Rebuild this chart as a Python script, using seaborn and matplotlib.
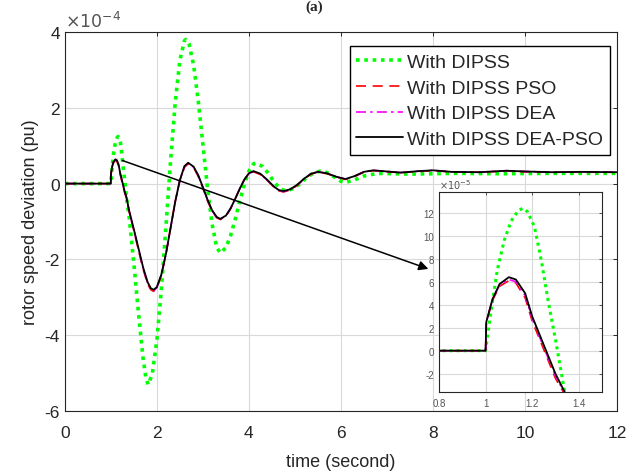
import numpy as np
import pandas as pd
import matplotlib
matplotlib.use("Agg")
import matplotlib.pyplot as plt
import seaborn as sns

# ---------------- data (values in units of 1e-4 pu) ----------------
t_dipss = [0.0, 0.5, 1.0, 1.02, 1.05, 1.08, 1.11, 1.14, 1.16, 1.18, 1.21, 1.24, 1.27, 1.30,
           1.34, 1.4, 1.5, 1.6, 1.7, 1.76, 1.81, 1.9, 2.0, 2.1, 2.2, 2.3, 2.4, 2.5, 2.6, 2.63,
           2.7, 2.8, 2.9, 3.0, 3.1, 3.2, 3.3, 3.38, 3.5, 3.6, 3.7, 3.8, 3.9, 4.0, 4.1, 4.15,
           4.3, 4.4, 4.5, 4.6, 4.7, 4.8, 4.95, 5.1, 5.25, 5.4, 5.55, 5.7, 5.85, 6.0, 6.1,
           6.3, 6.5, 6.8, 7.5, 8.5, 9.5, 10.5, 12.0]
v_dipss = [0.0, 0.0, 0.0, 0.30, 0.70, 0.96, 1.13, 1.22, 1.24, 1.21, 1.08, 0.78, 0.42, 0.10,
           -0.36, -0.9, -2.1, -3.4, -4.6, -5.1, -5.3, -5.03, -4.14, -2.77, -1.1, 0.62, 2.14, 3.25, 3.77, 3.8,
           3.68, 3.12, 2.18, 1.04, -0.11, -1.06, -1.68, -1.83, -1.69, -1.38, -0.955, -0.475, -0.025, 0.33, 0.52, 0.54,
           0.45, 0.305, 0.13, -0.03, -0.15, -0.19, -0.14, -0.01, 0.15, 0.28, 0.33, 0.29, 0.18, 0.06, 0.03,
           0.10, 0.20, 0.27, 0.25, 0.27, 0.26, 0.27, 0.27]

t_opt = [0.0, 0.5, 1.0, 1.003, 1.03, 1.06, 1.1, 1.13, 1.17, 1.2, 1.25, 1.3, 1.34, 1.4, 1.5,
         1.6, 1.7, 1.8, 1.87, 1.93, 2.0, 2.1, 2.2, 2.3, 2.4, 2.5, 2.6, 2.68, 2.8, 2.9, 3.0,
         3.1, 3.2, 3.3, 3.38, 3.5, 3.6, 3.7, 3.8, 3.9, 4.0, 4.1, 4.25, 4.4, 4.55, 4.65, 4.75,
         4.9, 5.05, 5.2, 5.35, 5.5, 5.7, 5.9, 6.1, 6.3, 6.5, 6.7, 7.0, 7.3, 7.7, 8.0, 8.4,
         9.0, 9.6, 10.0, 10.6, 11.2, 12.0]
v_dea_pso = [0.0, 0.0, 0.0, 0.25, 0.45, 0.58, 0.64, 0.62, 0.50, 0.30, 0.05, -0.20, -0.36, -0.72, -1.2,
             -1.7, -2.2, -2.6, -2.76, -2.8, -2.73, -2.39, -1.84, -1.16, -0.475, 0.09, 0.46, 0.55, 0.445, 0.22, -0.09,
             -0.42, -0.70, -0.88, -0.93, -0.845, -0.66, -0.41, -0.14, 0.105, 0.27, 0.33, 0.26, 0.10, -0.085, -0.17, -0.20,
             -0.15, -0.03, 0.13, 0.26, 0.31, 0.27, 0.18, 0.12, 0.20, 0.31, 0.35, 0.32, 0.29, 0.33, 0.35, 0.31,
             0.30, 0.34, 0.32, 0.30, 0.31, 0.30]
v_pso = [0.0, 0.0, 0.0, 0.25, 0.44, 0.56, 0.61, 0.59, 0.46, 0.26, 0.01, -0.24, -0.38, -0.75, -1.24,
         -1.75, -2.25, -2.65, -2.80, -2.84, -2.76, -2.41, -1.85, -1.16, -0.47, 0.08, 0.43, 0.52, 0.42, 0.19, -0.12,
         -0.45, -0.73, -0.90, -0.95, -0.86, -0.67, -0.41, -0.14, 0.10, 0.26, 0.31, 0.24, 0.08, -0.10, -0.19, -0.22,
         -0.17, -0.05, 0.12, 0.25, 0.30, 0.26, 0.17, 0.11, 0.19, 0.30, 0.34, 0.31, 0.29, 0.32, 0.34, 0.31,
         0.30, 0.33, 0.31, 0.30, 0.30, 0.30]
v_dea = [0.0, 0.0, 0.0, 0.25, 0.45, 0.57, 0.62, 0.60, 0.48, 0.28, 0.03, -0.22, -0.37, -0.74, -1.22,
         -1.72, -2.23, -2.63, -2.78, -2.82, -2.75, -2.40, -1.85, -1.16, -0.47, 0.09, 0.45, 0.54, 0.43, 0.21, -0.10,
         -0.43, -0.71, -0.89, -0.94, -0.85, -0.66, -0.41, -0.14, 0.10, 0.27, 0.32, 0.25, 0.09, -0.09, -0.18, -0.21,
         -0.16, -0.04, 0.13, 0.26, 0.31, 0.27, 0.18, 0.12, 0.20, 0.31, 0.35, 0.32, 0.29, 0.33, 0.35, 0.31,
         0.30, 0.34, 0.32, 0.30, 0.31, 0.30]

series_names = ["With DIPSS", "With DIPSS PSO", "With DIPSS DEA", "With DIPSS DEA-PSO"]
x_ticks = [0, 2, 4, 6, 8, 10, 12]
y_ticks = [-6, -4, -2, 0, 2, 4]
y_labels = ["-6", "-4", "-2", "0", "2", "4"]
inset_x_ticks = [0.8, 1.0, 1.2, 1.4]
inset_x_labels = ["0.8", "1", "1.2", "1.4"]
inset_y_ticks = [-2, 0, 2, 4, 6, 8, 10, 12]
inset_y_labels = ["-2", "0", "2", "4", "6", "8", "10", "12"]

# ---------------- build frames ----------------
frames = []
frames.append(pd.DataFrame({"t": t_dipss, "v": np.array(v_dipss) * 1e-4, "s": series_names[0]}))
frames.append(pd.DataFrame({"t": t_opt, "v": np.array(v_pso) * 1e-4, "s": series_names[1]}))
frames.append(pd.DataFrame({"t": t_opt, "v": np.array(v_dea) * 1e-4, "s": series_names[2]}))
frames.append(pd.DataFrame({"t": t_opt, "v": np.array(v_dea_pso) * 1e-4, "s": series_names[3]}))

styles = {
    series_names[0]: dict(color="#00ff00", linestyle=(0, (1, 1.3)), linewidth=2.6),
    series_names[1]: dict(color="#ff0000", linestyle=(0, (6, 4)), linewidth=1.2),
    series_names[2]: dict(color="#ff00ff", linestyle=(0, (6, 2.5, 1.5, 2.5)), linewidth=1.2),
    series_names[3]: dict(color="#000000", linestyle="-", linewidth=1.3),
}

sns.set_style("white")
plt.rcParams["font.family"] = ["Liberation Sans", "DejaVu Sans"]
plt.rcParams["axes.unicode_minus"] = False

fig = plt.figure(figsize=(6.29, 4.77), dpi=100)
ax = fig.add_axes([0.103, 0.136, 0.878, 0.795])

tick_col = "#262626"

def style_axes(a, fs, xt, xl, yt, yl, xlim, ylim, scale_pow, offset_text):
    a.set_xlim(*xlim)
    a.set_ylim(*ylim)
    a.set_xticks(xt)
    a.set_xticklabels(xl)
    a.set_yticks(np.array(yt) * 10.0 ** scale_pow)
    a.set_yticklabels(yl)
    a.grid(True, color="#d9d9d9", linewidth=0.8)
    a.set_axisbelow(True)
    for sp in a.spines.values():
        sp.set_visible(True)
        sp.set_color(tick_col)
        sp.set_linewidth(0.8)
    a.tick_params(direction="in", top=True, right=True, labelsize=fs,
                  colors=tick_col, length=3, width=0.7)
    a.text(0.0, 1.005, offset_text, transform=a.transAxes, ha="left", va="bottom",
           fontsize=fs, color="#555555")

for df in frames:
    name = df["s"].iloc[0]
    sns.lineplot(data=df, x="t", y="v", ax=ax, label=name, sort=False,
                 estimator=None, **styles[name])

style_axes(ax, 12.5, x_ticks, [str(v) for v in x_ticks], y_ticks, y_labels,
           (0, 12), (-6e-4, 4e-4), -4, r"$\times10^{-4}$")
ax.tick_params(axis="x", pad=10)
ax.set_xlabel("time (second)", fontsize=13, color=tick_col, labelpad=9)
ax.set_ylabel("rotor speed deviation (pu)", fontsize=13, color=tick_col)

leg = ax.legend(loc="upper right", bbox_to_anchor=(0.994, 0.972), fontsize=14,
                frameon=True, fancybox=False, handlelength=2.4, borderpad=0.35,
                labelspacing=0.42, handletextpad=0.2, borderaxespad=0.2)
leg.get_frame().set_edgecolor("black")
leg.get_frame().set_linewidth(1.0)
leg.get_frame().set_alpha(1.0)

# arrow from peak to inset
ax.annotate("", xy=(7.9, -2.25e-4), xytext=(1.25, 0.61e-4),
            arrowprops=dict(arrowstyle="-|>", color="black", lw=1.1,
                            mutation_scale=14, shrinkA=0, shrinkB=0))

# inset
axi = fig.add_axes([0.698, 0.176, 0.259, 0.419])
for df in frames:
    name = df["s"].iloc[0]
    st = dict(styles[name])
    if name == series_names[0]:
        st["linewidth"] = 2.2
    sns.lineplot(data=df, x="t", y="v", ax=axi, sort=False, estimator=None,
                 legend=False, **st)
style_axes(axi, 7, inset_x_ticks, inset_x_labels, inset_y_ticks, inset_y_labels,
           (0.8, 1.5), (-3.6e-5, 13.8e-5), -5, r"$\times10^{-5}$")
axi.set_xlabel("")
axi.set_ylabel("")
axi.tick_params(colors="#555555", length=2)
axi.tick_params(axis="x", pad=4)

fig.text(0.5, 0.999, "(a)", ha="center", va="top", fontsize=11,
         family="Liberation Serif", fontweight="bold")

fig.savefig("out.png", dpi=100)
